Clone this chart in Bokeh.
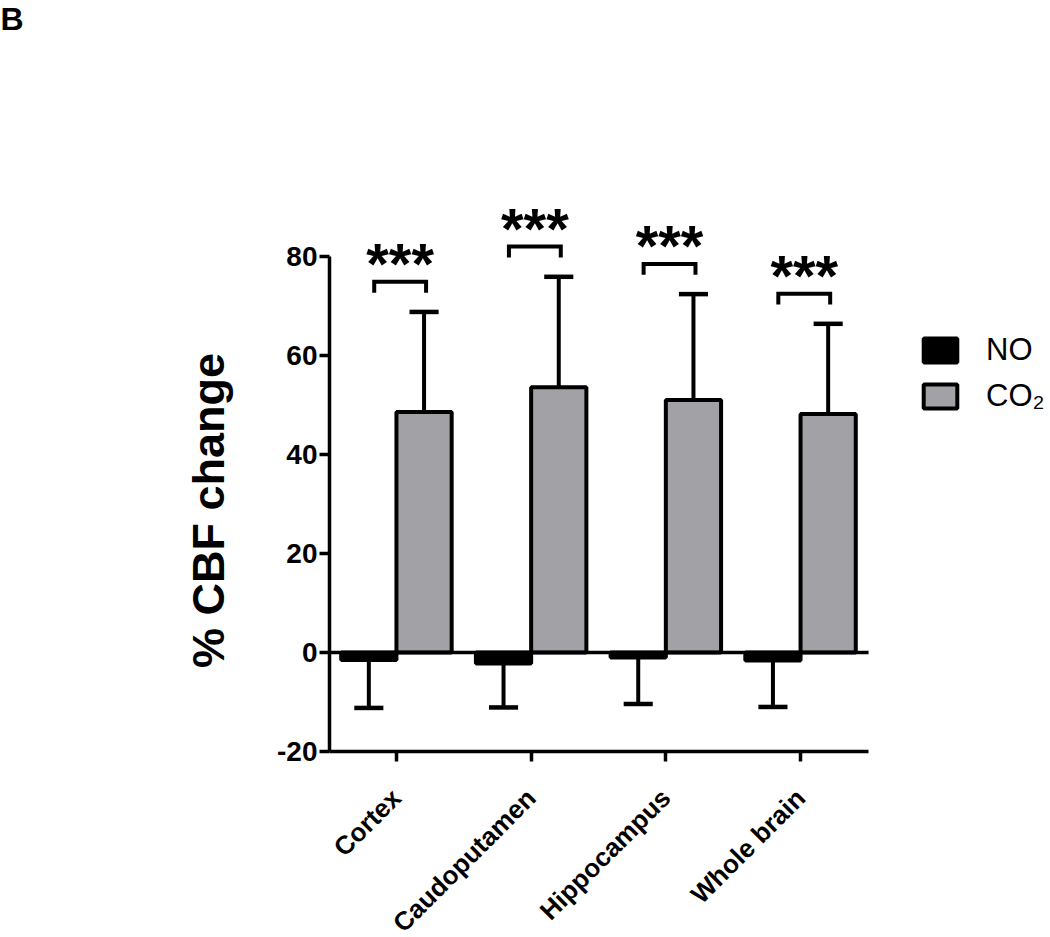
import numpy as np
from bokeh.plotting import figure
from bokeh.models import FixedTicker, Legend, LegendItem, Label, Range1d
from bokeh.core.properties import value
from bokeh.embed import file_html
from bokeh.resources import INLINE

# ---------------- data ----------------
regions = ["Cortex", "Caudoputamen", "Hippocampus", "Whole brain"]
no_mean = [-1.5, -2.2, -1.0, -1.6]
no_sd = [9.7, 8.9, 9.4, 9.4]
co2_mean = [48.6, 53.6, 51.0, 48.2]
co2_sd = [20.2, 22.3, 21.4, 18.2]
significance = ["***", "***", "***", "***"]
y_ticks = [-20, 0, 20, 40, 60, 80]
series_labels = ["NO", "CO\u2082"]

# ---------------- style / layout ----------------
FONT = "Liberation Sans"
GRAY = "#a2a2a6"
W, H = 1050, 937
AX_LEFT_PX, AX_BOTTOM_PX, AX_TOP_PX = 329, 751, 256   # where the axes sit on the page
px_x = 134.7                                           # pixels per category
px_y = (AX_BOTTOM_PX - AX_TOP_PX) / 100.0
x_axis_start, x_axis_end = -0.497, 3.505
y_axis_start, y_axis_end = -20, 80
x_start = x_axis_start - AX_LEFT_PX / px_x
x_end = x_axis_start + (W - AX_LEFT_PX) / px_x
y_start = y_axis_start - (H - AX_BOTTOM_PX) / px_y
y_end = y_axis_end + AX_TOP_PX / px_y

bar_w = 0.41
off = 0.205
cap_half = 0.108
LW = 4

xc = np.arange(len(regions), dtype=float)
x_no = xc - off
x_co2 = xc + off
no_mean_a = np.array(no_mean); no_sd_a = np.array(no_sd)
co2_mean_a = np.array(co2_mean); co2_sd_a = np.array(co2_sd)
no_tip = no_mean_a - no_sd_a
co2_tip = co2_mean_a + co2_sd_a

p = figure(width=W, height=H, x_range=Range1d(x_start, x_end), y_range=Range1d(y_start, y_end),
           min_border_left=0, min_border_right=0, min_border_top=0, min_border_bottom=0,
           toolbar_location=None, output_backend="svg", outline_line_color=None)
p.grid.visible = False
p.background_fill_color = "white"
p.border_fill_color = "white"

# error stems
p.segment(x0=x_no, y0=no_mean_a, x1=x_no, y1=no_tip, line_width=LW, line_color="black")
p.segment(x0=x_co2, y0=co2_mean_a, x1=x_co2, y1=co2_tip, line_width=LW, line_color="black")
# caps
p.segment(x0=x_no - cap_half, y0=no_tip, x1=x_no + cap_half, y1=no_tip, line_width=LW + 0.5, line_color="black")
p.segment(x0=x_co2 - cap_half, y0=co2_tip, x1=x_co2 + cap_half, y1=co2_tip, line_width=LW + 0.5, line_color="black")

# bars
r_no = p.vbar(x=x_no, width=bar_w, bottom=0, top=no_mean_a, fill_color="black", line_color="black", line_width=LW)
r_co2 = p.vbar(x=x_co2, width=bar_w, bottom=0, top=co2_mean_a, fill_color=GRAY, line_color="black", line_width=LW)

# zero line (only across the axis extent)
p.line(x=[x_axis_start, x_axis_end], y=[0, 0], line_color="black", line_width=3.5)

# significance brackets
b_left, b_right, b_gap, b_drop = -0.165, 0.22, 6.1, 2.2
yb = co2_tip + b_gap
xs = [[c + b_left, c + b_left, c + b_right, c + b_right] for c in xc]
ys = [[y - b_drop, y, y, y - b_drop] for y in yb]
p.multi_line(xs=xs, ys=ys, line_width=LW, line_color="black", line_join="miter")
p.text(x=xc + (b_left + b_right) / 2, y=yb + 3.7, text=significance, text_align="center",
       text_baseline="alphabetic", text_font=value(FONT), text_font_style="bold",
       text_font_size="58px", text_color="black")

# axes (fixed inside the frame)
ya = p.yaxis[0]
ya.fixed_location = x_axis_start
ya.ticker = FixedTicker(ticks=y_ticks)
ya.bounds = (y_axis_start, y_axis_end)
ya.major_label_overrides = {t: str(t) for t in y_ticks}
ya.minor_tick_line_color = None
ya.major_tick_in = 0
ya.major_tick_out = 10
ya.major_tick_line_width = 3.5
ya.axis_line_width = 3.5
ya.major_label_text_font = FONT
ya.major_label_text_font_style = "bold"
ya.major_label_text_font_size = "28px"
ya.major_label_text_color = "black"
ya.major_label_standoff = 2

xa = p.xaxis[0]
xa.fixed_location = y_axis_start
xa.ticker = FixedTicker(ticks=list(xc))
xa.bounds = (x_axis_start, x_axis_end)
xa.major_label_overrides = {float(i): r for i, r in enumerate(regions)}
xa.minor_tick_line_color = None
xa.major_tick_in = 0
xa.major_tick_out = 10
xa.major_tick_line_width = 3.5
xa.axis_line_width = 3.5
xa.major_label_orientation = np.pi / 4
xa.major_label_text_font = FONT
xa.major_label_text_font_style = "bold"
xa.major_label_text_font_size = "26px"
xa.major_label_text_color = "black"
xa.major_label_standoff = 32

# y axis title
p.add_layout(Label(x=208, y=H - 510, x_units="screen", y_units="screen", text="% CBF change",
                   angle=np.pi / 2, text_align="center", text_baseline="middle",
                   text_font=FONT, text_font_style="bold", text_font_size="45px", text_color="black"))

# legend
legend = Legend(items=[LegendItem(label=series_labels[0], renderers=[r_no]),
                       LegendItem(label=series_labels[1], renderers=[r_co2])],
                location=(919, 523), glyph_width=42, glyph_height=30, label_height=30,
                label_text_font=FONT, label_text_font_size="31px", label_text_color="black",
                label_standoff=25, spacing=10, padding=0, margin=0,
                border_line_color=None, background_fill_alpha=0)
p.add_layout(legend)

# panel letter
p.add_layout(Label(x=0, y=H - 18, x_units="screen", y_units="screen", text="B",
                   text_align="left", text_baseline="alphabetic", text_font=FONT, text_font_style="bold",
                   text_font_size="32px", text_color="black"))

open("out.html", "w").write(file_html(p, INLINE))
